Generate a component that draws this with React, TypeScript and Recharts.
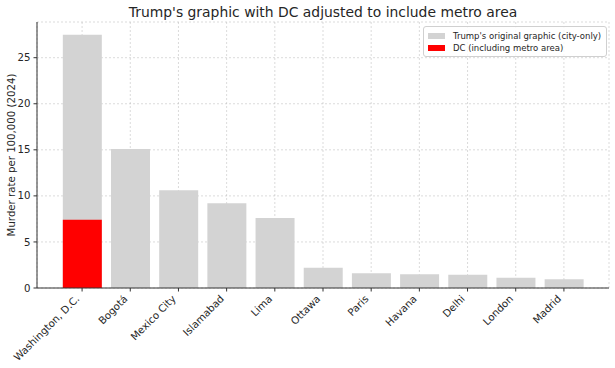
import React from "react";
import {
  BarChart,
  Bar,
  XAxis,
  YAxis,
  CartesianGrid,
  Legend,
  Label,
} from "recharts";

const cities = [
  "Washington, D.C.",
  "Bogotá",
  "Mexico City",
  "Islamabad",
  "Lima",
  "Ottawa",
  "Paris",
  "Havana",
  "Delhi",
  "London",
  "Madrid",
];
const cityOnlyRates = [27.5, 15.1, 10.6, 9.2, 7.6, 2.2, 1.6, 1.5, 1.45, 1.1, 0.95];
const metroRates: (number | null)[] = [7.4, null, null, null, null, null, null, null, null, null, null];
const yTicks = [0, 5, 10, 15, 20, 25];

const seriesNames = {
  city: "Trump's original graphic (city-only)",
  metro: "DC (including metro area)",
};
const titleText = "Trump's graphic with DC adjusted to include metro area";
const yLabelText = "Murder rate per 100,000 (2024)";

const data = cities.map((c, i) => ({
  city: c,
  cityOnly: cityOnlyRates[i],
  metro: metroRates[i],
}));

const FONT = "'DejaVu Sans', sans-serif";
const TEXT = "#262626";

const XTick = (props: any) => {
  const { x, y, payload } = props;
  const bx = x - 2;
  const by = y + 8;
  return (
    <text
      x={bx}
      y={by}
      transform={`rotate(-45, ${bx}, ${by})`}
      textAnchor="end"
      fontSize={10.2}
      fontFamily={FONT}
      fill={TEXT}
    >
      {payload.value}
    </text>
  );
};

const LegendBox = () => (
  <div
    style={{
      position: "absolute",
      left: 0,
      top: 0,
      boxSizing: "border-box",
      width: 184,
      height: 31,
      background: "rgba(255,255,255,0.8)",
      border: "1px solid #d0d0d0",
      borderRadius: 3,
      padding: "3px 4px",
      fontFamily: FONT,
      fontSize: 8.5,
      color: TEXT,
      lineHeight: "12px",
    }}
  >
    {[
      { name: seriesNames.city, color: "#d3d3d3" },
      { name: seriesNames.metro, color: "#ff0000" },
    ].map((e) => (
      <div key={e.name} style={{ display: "flex", alignItems: "center", whiteSpace: "nowrap" }}>
        <span
          style={{
            display: "inline-block",
            width: 17,
            height: 6,
            background: e.color,
            marginRight: 8,
          }}
        />
        <span>{e.name}</span>
      </div>
    ))}
  </div>
);

export default function App() {
  return (
    <div style={{ position: "absolute", left: 0, top: 0, width: 615, height: 368, background: "#fff" }}>
      <div
        style={{
          position: "absolute",
          top: 4,
          left: 37,
          width: 572,
          textAlign: "center",
          fontFamily: FONT,
          fontSize: 13.9,
          lineHeight: "16px",
          color: TEXT,
        }}
      >
        {titleText}
      </div>
      <BarChart
        width={615}
        height={368}
        data={data}
        margin={{ top: 22, right: 6, bottom: 0, left: 0 }}
        barCategoryGap="10%"
      >
        <XAxis
          xAxisId="main"
          dataKey="city"
          height={80}
          padding={{ left: 21, right: 21 }}
          interval={0}
          tick={<XTick />}
          tickSize={3.5}
          tickMargin={0}
          axisLine={{ stroke: "#333", strokeWidth: 1 }}
          tickLine={{ stroke: "#333" }}
        />
        <XAxis xAxisId="over" dataKey="city" hide padding={{ left: 21, right: 21 }} />
        <YAxis
          width={37}
          domain={[0, 28.875]}
          ticks={yTicks}
          allowDataOverflow
          tickSize={3.5}
          tickMargin={3}
          axisLine={{ stroke: "#333", strokeWidth: 1 }}
          tickLine={{ stroke: "#333" }}
          tick={{ fontSize: 10.2, fontFamily: FONT, fill: TEXT }}
        >
          <Label
            content={(p: any) => {
              const vb = p.viewBox || { y: 22, height: 266 };
              const cy = vb.y + vb.height / 2;
              return (
                <text
                  x={15}
                  y={cy}
                  transform={`rotate(-90, 15, ${cy})`}
                  textAnchor="middle"
                  fontSize={10.2}
                  fontFamily={FONT}
                  fill={TEXT}
                >
                  {yLabelText}
                </text>
              );
            }}
          />
        </YAxis>
        <Bar
          xAxisId="main"
          dataKey="cityOnly"
          name={seriesNames.city}
          fill="#d3d3d3"
          isAnimationActive={false}
        />
        <Bar
          xAxisId="over"
          dataKey="metro"
          name={seriesNames.metro}
          fill="#ff0000"
          isAnimationActive={false}
        />
        <CartesianGrid
          xAxisId="main"
          stroke="#b0b0b0"
          strokeOpacity={0.45}
          strokeDasharray="2 2"
          zIndex={100}
        />
        <Legend
          content={<LegendBox />}
          wrapperStyle={{ position: "absolute", left: 423, top: 26, width: 0, height: 0, overflow: "visible" }}
        />
      </BarChart>
    </div>
  );
}
